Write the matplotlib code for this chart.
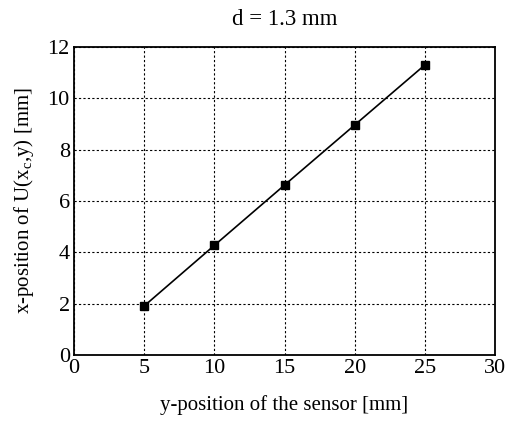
import matplotlib
matplotlib.use("Agg")
import matplotlib.pyplot as plt

# data
sensor_y = [5, 10, 15, 20, 25]
u_x = [1.91, 4.27, 6.62, 8.96, 11.3]
x_ticks = [0, 5, 10, 15, 20, 25, 30]
y_ticks = [0, 2, 4, 6, 8, 10, 12]

plt.rcParams['font.family'] = ['Liberation Serif', 'DejaVu Serif']
plt.rcParams['mathtext.fontset'] = 'custom'
plt.rcParams['mathtext.rm'] = 'Liberation Serif'

fig = plt.figure(figsize=(5.12, 4.22), dpi=100)
ax = fig.add_axes([74/512, 1 - 355/422, 421/512, 308/422])

ax.plot(sensor_y, u_x, color='black', lw=1.2, marker='s', ms=6, zorder=3)

ax.set_xlim(0, 30)
ax.set_ylim(0, 12)
ax.set_xticks(x_ticks)
ax.set_yticks(y_ticks)
ax.grid(True, color='black', linestyle=(0, (2, 2)), lw=0.8)
ax.tick_params(direction='in', length=0, labelsize=16, pad=3)
for s in ax.spines.values():
    s.set_linewidth(1.3)

ax.set_title('d = 1.3 mm', fontsize=16.5, pad=16)
ax.set_xlabel('y-position of the sensor [mm]', fontsize=15, labelpad=12)
ax.set_ylabel(r'x-position of U(x$_\mathrm{c}$,y) [mm]', fontsize=15, labelpad=8)

fig.savefig('out.png', dpi=100)
